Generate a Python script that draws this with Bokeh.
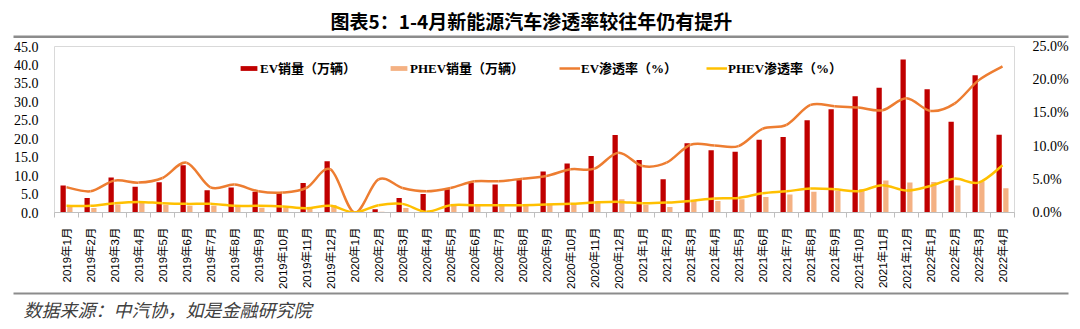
import numpy as np
from bokeh.plotting import figure
from bokeh.layouts import column
from bokeh.models import (Range1d, LinearAxis, FixedTicker, PrintfTickFormatter,
                          Legend, LegendItem, Label, BoxAnnotation)
from bokeh.embed import file_html
from bokeh.resources import INLINE

months = ["2019年1月", "2019年2月", "2019年3月", "2019年4月", "2019年5月", "2019年6月",
          "2019年7月", "2019年8月", "2019年9月", "2019年10月", "2019年11月", "2019年12月",
          "2020年1月", "2020年2月", "2020年3月", "2020年4月", "2020年5月", "2020年6月",
          "2020年7月", "2020年8月", "2020年9月", "2020年10月", "2020年11月", "2020年12月",
          "2021年1月", "2021年2月", "2021年3月", "2021年4月", "2021年5月", "2021年6月",
          "2021年7月", "2021年8月", "2021年9月", "2021年10月", "2021年11月", "2021年12月",
          "2022年1月", "2022年2月", "2022年3月", "2022年4月"]

ev_sales = [7.3, 3.9, 9.5, 7.0, 8.2, 12.8, 6.0, 6.8, 5.6, 5.5, 8.0, 13.9,
            0.0, 0.9, 3.9, 5.0, 6.3, 8.0, 7.6, 8.9, 11.1, 13.3, 15.3, 21.0,
            14.2, 9.0, 18.8, 16.9, 16.5, 19.7, 20.5, 25.0, 28.0, 31.5, 33.8, 41.5,
            33.4, 24.6, 37.2, 21.1]
phev_sales = [1.8, 1.2, 2.2, 2.7, 2.0, 1.8, 1.8, 1.6, 1.3, 1.3, 1.1, 2.0,
              0.0, 0.2, 1.2, 0.5, 1.8, 1.8, 1.8, 1.8, 2.0, 2.1, 3.0, 3.6,
              2.1, 1.5, 3.1, 3.1, 3.6, 4.2, 4.9, 5.6, 5.8, 6.3, 8.7, 8.1,
              8.3, 7.3, 8.5, 6.6]
ev_pen = [3.8, 3.2, 4.8, 4.5, 5.2, 7.5, 3.8, 4.2, 3.2, 3.0, 3.7, 6.5,
          0.0, 5.0, 3.7, 3.2, 3.7, 4.7, 4.7, 5.1, 5.5, 6.5, 6.6, 9.0,
          7.0, 7.5, 10.2, 10.1, 10.0, 12.6, 13.2, 16.2, 16.0, 15.8, 15.4, 17.2,
          15.3, 16.4, 19.9, 22.0]
phev_pen = [1.0, 1.0, 1.4, 1.6, 1.4, 1.3, 1.3, 1.0, 1.0, 0.9, 0.65, 1.0,
            0.0, 1.1, 1.3, 0.1, 1.1, 1.1, 1.1, 1.1, 1.2, 1.3, 1.5, 1.6,
            1.4, 1.5, 1.75, 2.1, 2.2, 2.9, 3.2, 3.6, 3.5, 3.2, 4.1, 3.3,
            4.0, 5.1, 4.5, 7.1]

left_ticks = [0, 5, 10, 15, 20, 25, 30, 35, 40, 45]
right_ticks = [0, 5, 10, 15, 20, 25]

TITLE = "图表5：1-4月新能源汽车渗透率较往年仍有提升"
SOURCE = "数据来源：中汽协，如是金融研究院"

EV_COLOR = "#C00000"
PHEV_COLOR = "#F4B183"
EVL_COLOR = "#ED7D31"
PHEVL_COLOR = "#FFC000"
RULE_COLOR = "#8C8C8C"
SERIF = "'Liberation Serif', 'Noto Sans CJK SC'"
CJK = "'Noto Sans CJK SC'"

W = 1080
n = len(months)
xc = np.arange(n) + 0.5


def strip(height):
    f = figure(width=W, height=height, output_backend="svg", toolbar_location=None,
               x_range=Range1d(0, W), y_range=Range1d(0, height),
               min_border=0, x_axis_location=None, y_axis_location=None)
    f.frame_align = False
    f.xgrid.visible = False
    f.ygrid.visible = False
    f.outline_line_color = None
    return f

# ---- top strip: title + rule
top = strip(38)
top.add_layout(Label(x=330, y=18, text=TITLE, text_font=CJK, text_font_size="19px",
                     text_font_style="bold", text_align="left", text_baseline="middle",
                     text_color="#000000"))
top.add_layout(BoxAnnotation(left=13, right=1068, bottom=0.5, top=3,
                             fill_color=RULE_COLOR, fill_alpha=1, line_color=None))

# ---- main chart
p = figure(width=W, height=253, output_backend="svg", toolbar_location=None,
           x_range=Range1d(0, n), y_range=Range1d(0, 45),
           min_border_left=54, min_border_right=66, min_border_top=8, min_border_bottom=78)
p.frame_align = False
p.extra_y_ranges = {"pct": Range1d(0, 25)}
p.xgrid.visible = False
p.ygrid.visible = False
p.outline_line_color = "#D9D9D9"
p.outline_line_width = 1

r_ev = p.vbar(x=xc - 0.14, top=ev_sales, width=0.22, fill_color=EV_COLOR, line_color=None)
r_phev = p.vbar(x=xc + 0.14, top=phev_sales, width=0.22, fill_color=PHEV_COLOR, line_color=None)


def smooth(vals, color):
    y = np.array(vals, dtype=float)
    xp = np.concatenate([[xc[0]], xc, [xc[-1]]])
    yp = np.concatenate([[y[0]], y, [y[-1]]])
    x0 = xc[:-1]; x1 = xc[1:]
    y0 = y[:-1]; y1 = y[1:]
    cx0 = x0 + (xp[2:-1] - xp[:-3]) / 6.0
    cy0 = y0 + (yp[2:-1] - yp[:-3]) / 6.0
    cx1 = x1 - (xp[3:] - xp[1:-2]) / 6.0
    cy1 = y1 - (yp[3:] - yp[1:-2]) / 6.0
    p.bezier(x0=x0, y0=y0, x1=x1, y1=y1, cx0=cx0, cy0=cy0, cx1=cx1, cy1=cy1,
             line_color=color, line_width=2.5, y_range_name="pct")
    # off-frame stand-in used only for the legend swatch
    return p.line(x=[-5, -4], y=[-5, -5], line_color=color, line_width=2.5,
                  y_range_name="pct")

r_evl = smooth(ev_pen, EVL_COLOR)
r_phevl = smooth(phev_pen, PHEVL_COLOR)

xax = p.xaxis[0]
xax.ticker = FixedTicker(ticks=list(xc), minor_ticks=list(range(n + 1)))
xax.major_label_overrides = {float(v): m for v, m in zip(xc, months)}
xax.major_label_orientation = np.pi / 2
xax.major_tick_out = 0
xax.major_tick_in = 0
xax.minor_tick_out = 5
xax.minor_tick_in = 0
xax.minor_tick_line_color = "#BFBFBF"
xax.axis_line_color = "#BFBFBF"
xax.major_label_text_font = "'Liberation Sans', 'Noto Sans CJK SC'"
xax.major_label_text_font_size = "11.5px"
xax.major_label_text_color = "#000000"
xax.major_label_standoff = 10

yax = p.yaxis[0]
yax.ticker = FixedTicker(ticks=left_ticks)
yax.formatter = PrintfTickFormatter(format="%.1f")
yax.axis_line_color = None
yax.major_tick_line_color = None
yax.minor_tick_line_color = None
yax.major_label_text_font = SERIF
yax.major_label_text_font_size = "14px"
yax.major_label_text_color = "#000000"
yax.major_label_standoff = 10

rax = LinearAxis(y_range_name="pct", ticker=FixedTicker(ticks=right_ticks),
                 formatter=PrintfTickFormatter(format="%.1f%%"))
rax.axis_line_color = None
rax.major_tick_line_color = None
rax.minor_tick_line_color = None
rax.major_label_text_font = SERIF
rax.major_label_text_font_size = "14px"
rax.major_label_text_color = "#000000"
rax.major_label_standoff = 12
p.add_layout(rax, "right")

items = [("EV销量（万辆）", r_ev, 184), ("PHEV销量（万辆）", r_phev, 334),
         ("EV渗透率（%）", r_evl, 505), ("PHEV渗透率（%）", r_phevl, 652)]
for lab, rend, lx in items:
    lg = Legend(items=[LegendItem(label=lab, renderers=[rend])], location=(lx, 135),
                orientation="horizontal", glyph_width=21, glyph_height=6,
                label_height=14, label_standoff=1, padding=0, margin=0, spacing=0,
                border_line_color=None, background_fill_alpha=0,
                label_text_font=SERIF, label_text_font_size="13px",
                label_text_font_style="bold", label_text_color="#000000")
    p.add_layout(lg, "center")

# ---- bottom strip: rule + source
bot = strip(38)
bot.add_layout(BoxAnnotation(left=13, right=1068, bottom=35, top=37,
                             fill_color=RULE_COLOR, fill_alpha=1, line_color=None))
bot.add_layout(Label(x=23, y=21, text=SOURCE, text_font=CJK, text_font_size="18px",
                     text_font_style="italic", text_align="left", text_baseline="middle",
                     text_color="#404040"))

layout = column(top, p, bot, spacing=0)
open("out.html", "w").write(file_html(layout, INLINE))
